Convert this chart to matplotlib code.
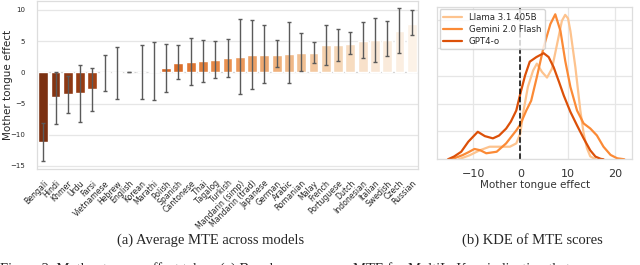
import matplotlib
matplotlib.use("Agg")
import matplotlib.pyplot as plt
import seaborn as sns
import numpy as np

# Average MTE per language (sorted), with min/max across models as error bars
languages = ["Bengali", "Hindi", "Khmer", "Urdu", "Farsi", "Vietnamese", "Hebrew",
             "English", "Korean", "Marathi", "Polish", "Spanish", "Cantonese", "Thai",
             "Tagalog", "Turkish", "Mandarin (simp)", "Mandarin (trad)", "Japanese",
             "German", "Arabic", "Romanian", "Malay", "French", "Portuguese", "Dutch",
             "Indonesian", "Italian", "Swedish", "Czech", "Russian"]
mte_mean = [-11.1, -4.0, -3.45, -3.25, -2.7, -0.1, -0.1, 0.0, 0.05, 0.2, 0.65, 1.55,
            1.7, 1.75, 2.0, 2.3, 2.45, 2.7, 2.8, 2.8, 3.0, 3.1, 3.1, 4.3, 4.3, 4.6,
            5.0, 5.1, 5.25, 6.6, 7.8]
mte_low = [-14.2, -8.3, -6.5, -8.0, -6.2, -3.0, -4.3, 0.0, -4.25, -4.45, -3.1, -1.1,
           -2.0, -1.5, -0.85, -0.7, -3.45, -2.75, -1.7, 0.85, -1.75, 0.15, 1.55, 1.2,
           1.85, 3.0, 2.3, 1.7, 2.65, 3.15, 5.9]
mte_high = [-8.1, 0.0, -0.6, 1.2, 0.7, 2.75, 4.0, 0.0, 4.3, 4.85, 4.6, 4.4, 5.5, 5.15,
            4.95, 5.4, 8.6, 8.4, 7.6, 5.1, 8.0, 6.3, 4.9, 7.65, 7.0, 6.45, 8.0, 8.7,
            8.15, 10.25, 9.95]

# KDE curves (x = MTE, y = density)
llama_x = [-13.0, -10.7, -8.6, -6.5, -4.3, -2.2, -0.85, 0.0, 0.7, 1.6, 2.7, 3.5, 4.6,
           5.65, 6.7, 7.8, 8.8, 9.5, 10.1, 10.6, 11.65, 12.7, 13.4, 14.1, 14.8, 15.9]
llama_y = [0.0, 0.0029, 0.0064, 0.009, 0.009, 0.009, 0.0114, 0.0186, 0.035, 0.0519,
           0.0636, 0.0686, 0.0626, 0.0586, 0.065, 0.0829, 0.0993, 0.1036, 0.1010,
           0.092, 0.0661, 0.035, 0.0186, 0.0079, 0.0021, 0.0]
gemini_x = [-14.5, -12.2, -11.0, -9.7, -8.5, -7.2, -5.0, -3.0, -0.85, 0.0, 1.27, 2.3,
            3.5, 4.9, 6.36, 7.4, 8.5, 9.5, 10.6, 12.0, 13.4, 14.8, 16.2, 17.6, 19.1,
            20.5, 22.0]
gemini_y = [0.0, 0.003, 0.005, 0.0074, 0.0065, 0.0043, 0.0054, 0.0114, 0.0207, 0.025,
            0.035, 0.042, 0.059, 0.080, 0.097, 0.104, 0.092, 0.0707, 0.0519, 0.035,
            0.0257, 0.0221, 0.0171, 0.009, 0.0031, 0.0007, 0.0]
gpt_x = [-15.3, -14.0, -12.5, -11.0, -9.0, -7.5, -5.8, -4.5, -3.0, -2.0, -0.85, 0.0,
         1.0, 2.0, 3.4, 4.94, 6.0, 7.06, 8.2, 9.2, 10.6, 12.0, 13.4, 14.8, 15.9, 17.0,
         17.6]
gpt_y = [0.0, 0.002, 0.0054, 0.0126, 0.0197, 0.0166, 0.015, 0.017, 0.022, 0.027,
         0.035, 0.047, 0.060, 0.070, 0.0733, 0.0761, 0.0733, 0.066, 0.0554, 0.0457,
         0.034, 0.0243, 0.015, 0.0064, 0.0019, 0.0003, 0.0]

sns.set_theme(style="whitegrid")
plt.rcParams["font.family"] = ["DejaVu Sans"]

fig = plt.figure(figsize=(6.4, 2.65), dpi=100)

# (a) bar chart
ax1 = fig.add_axes([0.058, 0.362, 0.595, 0.636])
pos = np.arange(len(languages))
colors = sns.color_palette("Oranges_r", n_colors=len(languages), desat=0.8)
ax1.bar(pos, mte_mean, width=0.8, color=colors, zorder=2)
yerr = [np.array(mte_mean) - np.array(mte_low), np.array(mte_high) - np.array(mte_mean)]
ax1.errorbar(pos, mte_mean, yerr=yerr, fmt="none", ecolor="#5a5a5a", elinewidth=1.0,
             capsize=1.6, capthick=1.0, zorder=3)
ax1.axhline(0, color="#cfcfcf", lw=0.8, ls="--", zorder=1)
ax1.set_xlim(-0.5, len(languages) - 0.5)
ax1.set_ylim(-15.5, 11.5)
ax1.set_yticks([-15, -10, -5, 0, 5, 10])
ax1.set_xticks(pos)
ax1.set_xticklabels(languages, rotation=45, ha="right", rotation_mode="anchor",
                    fontsize=5.6)
ax1.tick_params(axis="y", labelsize=5.0, pad=2.5)
ax1.tick_params(axis="x", pad=1)
ax1.set_ylabel("Mother tongue effect", fontsize=7.5)
ax1.yaxis.set_label_coords(-0.063, 0.5)
ax1.grid(axis="x", visible=False)
ax1.grid(axis="y", color="#e6e6e6", lw=0.9)
for s in ax1.spines.values():
    s.set_color("#dddddd")
    s.set_linewidth(0.9)

# (b) KDE
ax2 = fig.add_axes([0.683, 0.399, 0.305, 0.576])
ax2.plot(llama_x, llama_y, color="#fdc38e", lw=1.6, label="Llama 3.1 405B")
ax2.plot(gemini_x, gemini_y, color="#fb8a36", lw=1.6, label="Gemini 2.0 Flash")
ax2.plot(gpt_x, gpt_y, color="#dc5008", lw=1.6, label="GPT4-o")
ax2.axvline(0, color="black", lw=1.1, ls="--")
ax2.set_xlim(-17.6, 23.7)
ax2.set_ylim(0, 0.1095)
ax2.set_xticks([-10, 0, 10, 20])
ax2.set_yticks([0, 0.02, 0.04, 0.06, 0.08, 0.10])
ax2.set_yticklabels([])
ax2.tick_params(axis="x", labelsize=8, pad=1, colors="#333333")
ax2.tick_params(axis="y", length=0)
ax2.set_xlabel("Mother tongue effect", fontsize=7.5, color="#333333", labelpad=1)
ax2.grid(color="#e6e6e6", lw=0.9)
for s in ax2.spines.values():
    s.set_color("#dddddd")
    s.set_linewidth(0.9)
ax2.legend(loc="upper left", fontsize=6.2, frameon=True, handlelength=2.2,
           borderpad=0.4, labelspacing=0.35, borderaxespad=0.3)

# captions
fig.text(211 / 640, 1 - 240 / 265, "(a) Average MTE across models",
         family="Liberation Serif", fontsize=10.5, ha="center", va="center")
fig.text(532 / 640, 1 - 240 / 265, "(b) KDE of MTE scores",
         family="Liberation Serif", fontsize=10.5, ha="center", va="center")
fig.text(0.0, 1 - 262 / 265,
         "Figure 2: Mother tongue effect takes. (a) Bar shows average MTE for MultiLoKey, indicating that",
         family="Liberation Serif", fontsize=10.5, ha="left", va="top")

fig.savefig("out.png", dpi=100)
